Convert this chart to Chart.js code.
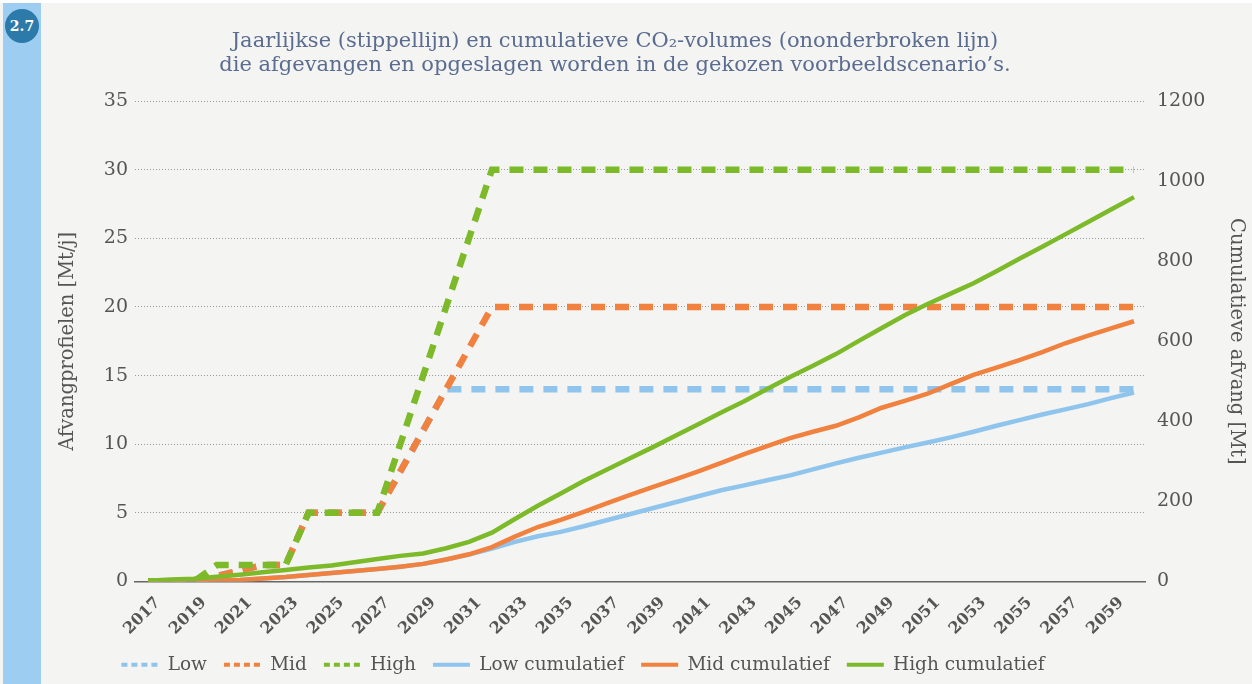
<!DOCTYPE html>
<html><head><meta charset="utf-8">
<script src="https://cdn.jsdelivr.net/npm/chart.js@4.4.1/dist/chart.umd.min.js"></script>
<style>
html,body{margin:0;padding:0;background:#ffffff;}
body{width:1252px;height:684px;position:relative;overflow:hidden;}
#panel{position:absolute;left:0;top:3px;width:1252px;height:681px;background:#f4f4f2;}
#strip{position:absolute;left:3px;top:3px;width:38px;height:681px;background:#9dcdf0;}
#badge{position:absolute;left:5px;top:9px;width:34px;height:34px;border-radius:50%;background:#2b7aa9;color:#fff;font:bold 14px "DejaVu Serif";text-align:center;line-height:34px;}
#c{position:absolute;left:-22px;top:0;}
</style></head>
<body>
<div id="panel"></div>
<div id="strip"></div>
<div id="badge">2.7</div>
<canvas id="c" width="1274" height="684"></canvas>
<script>
const years = [2017,2018,2019,2020,2021,2022,2023,2024,2025,2026,2027,2028,2029,2030,2031,2032,2033,2034,2035,2036,2037,2038,2039,2040,2041,2042,2043,2044,2045,2046,2047,2048,2049,2050,2051,2052,2053,2054,2055,2056,2057,2058,2059,2060];
const xTickYears = [2017,2019,2021,2023,2025,2027,2029,2031,2033,2035,2037,2039,2041,2043,2045,2047,2049,2051,2053,2055,2057,2059];
const leftTicks = [0,5,10,15,20,25,30,35];
const rightTicks = [0,200,400,600,800,1000,1200];

const lowAnnual = [0,0,0,0.4,0.8,1.2,1.2,5,5,5,
  5,8,11,14,14,14,14,14,14,14,
  14,14,14,14,14,14,14,14,14,14,
  14,14,14,14,14,14,14,14,14,14,
  14,14,14,14];
const midAnnual = [0,0,0,0.4,0.8,1.2,1.2,5,5,5,
  5,8,11,14,17,20,20,20,20,20,
  20,20,20,20,20,20,20,20,20,20,
  20,20,20,20,20,20,20,20,20,20,
  20,20,20,20];
const highAnnual = [0,0,0,1.2,1.2,1.2,1.2,5,5,5,
  5,10,15,20,25,30,30,30,30,30,
  30,30,30,30,30,30,30,30,30,30,
  30,30,30,30,30,30,30,30,30,30,
  30,30,30,30];
const lowCum = [0,0.5,1,2.5,4,7.5,11,16,21,26,
  31,37,44,55,67,82,99,113,124,138,
  153,168,183,198,213,228,240,253,265,280,
  295,309,322,335,347,360,374,389,403,417,
  430,443,458,472];
const midCum = [0,0.5,1,2.5,4,7.5,11,16,21,26,
  31,37,44,55,68,86,112,136,154,174,
  195,216,236,255,275,296,318,338,358,374,
  389,410,434,451,469,493,516,534,553,573,
  595,614,632,650];
const highCum = [2,5,7,12,17,23,29,35,40,48,
  56,64,70,83,99,122,156,189,220,251,
  279,307,335,364,393,422,450,481,511,539,
  568,601,633,665,693,719,745,775,806,836,
  867,898,929,960];

const C = {low:'#8fc4ec', mid:'#f0813f', high:'#7cba2a'};
const FAM = '"DejaVu Serif", serif';
const pts = arr => arr.map((v,i)=>({x:years[i], y:v}));

const dashed = {borderWidth:6.5, borderDash:[14,10], yAxisID:'y'};
const solid = {borderWidth:4.5, yAxisID:'y1'};

const legendShift = {
  id:'legendShift',
  afterLayout(chart){
    const lg = chart.legend;
    if (lg) { lg.left -= 32; lg.right -= 32; }
  }
};

new Chart(document.getElementById('c'), {
  type:'line',
  plugins:[legendShift],
  data:{datasets:[
    Object.assign({label:'Low', data:pts(lowAnnual), borderColor:C.low, backgroundColor:C.low, order:6}, dashed),
    Object.assign({label:'Mid', data:pts(midAnnual), borderColor:C.mid, backgroundColor:C.mid, order:5}, dashed),
    Object.assign({label:'High', data:pts(highAnnual), borderColor:C.high, backgroundColor:C.high, order:4}, dashed),
    Object.assign({label:'Low cumulatief', data:pts(lowCum), borderColor:C.low, backgroundColor:C.low, order:3}, solid),
    Object.assign({label:'Mid cumulatief', data:pts(midCum), borderColor:C.mid, backgroundColor:C.mid, order:2}, solid),
    Object.assign({label:'High cumulatief', data:pts(highCum), borderColor:C.high, backgroundColor:C.high, order:1}, solid)
  ]},
  options:{
    responsive:false, animation:false,
    layout:{padding:0},
    elements:{point:{radius:0, hoverRadius:0}, line:{tension:0, borderCapStyle:'butt', borderJoinStyle:'miter', fill:false}},
    plugins:{
      tooltip:{enabled:false},
      title:{display:true,
        text:['Jaarlijkse (stippellijn) en cumulatieve CO\u2082-volumes (ononderbroken lijn)','die afgevangen en opgeslagen worden in de gekozen voorbeeldscenario\u2019s.'],
        color:'#5b6c91', font:{family:FAM, size:21, weight:'normal', lineHeight:1.12}, padding:{top:30, bottom:24}},
      legend:{position:'bottom',
        labels:{usePointStyle:true, pointStyleWidth:37, boxHeight:4, padding:17, color:'#555',
          font:{family:FAM, size:18.5},
          generateLabels: chart => chart.data.datasets.map((ds,i)=>({
            text:ds.label, fillStyle:ds.borderColor, strokeStyle:ds.borderColor,
            lineWidth:4, lineDash: ds.borderDash ? [6,4] : [], pointStyle:'line',
            hidden:false, datasetIndex:i, fontColor:'#555'
          }))
        }
      }
    },
    scales:{
      x:{type:'linear', min:2016.433, max:2060.48,
        afterBuildTicks: s => { s.ticks = xTickYears.map(v=>({value:v})); },
        afterFit: s => { s.height = 57; },
        ticks:{autoSkip:false, minRotation:45, maxRotation:45, padding:12, labelOffset:10, color:'#555',
          font:{family:FAM, size:16, weight:'bold'}, callback: v => String(v)},
        grid:{display:false, drawTicks:false},
        border:{display:true, color:'#666', width:1.5}
      },
      y:{position:'left', min:0, max:35,
        afterBuildTicks: s => { s.ticks = leftTicks.map(v=>({value:v})); },
        afterFit: s => { s.width = 157; },
        ticks:{padding:7, color:'#555', font:{family:FAM, size:19}, callback: v => String(v)},
        grid:{color:'#9a9a9a', lineWidth:1, drawTicks:false},
        border:{display:false, dash:[1,2]},
        title:{display:true, text:'Afvangprofielen [Mt/j]', color:'#555', font:{family:FAM, size:19.5}, padding:{top:78, bottom:0}}
      },
      y1:{position:'right', min:0, max:1200,
        afterBuildTicks: s => { s.ticks = rightTicks.map(v=>({value:v})); },
        afterFit: s => { s.width = 107; },
        ticks:{padding:12, color:'#555', font:{family:FAM, size:19}, callback: v => String(v)},
        grid:{display:false, drawTicks:false},
        border:{display:false},
        title:{display:true, text:'Cumulatieve afvang [Mt]', color:'#555', font:{family:FAM, size:19.5}, padding:{top:4, bottom:0}}
      }
    }
  }
});
</script>
</body></html>
